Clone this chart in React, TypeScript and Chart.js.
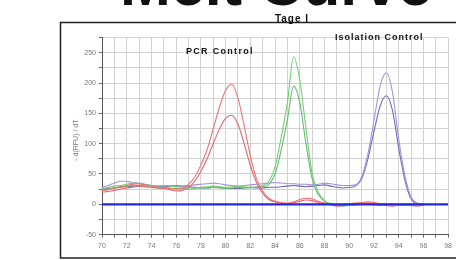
import { useEffect, useRef } from 'react';
import { Chart, registerables } from 'chart.js';

Chart.register(...registerables);

const TITLE = 'Melt Curve';
const STAGE = 'Tage I';
const PCR_LABEL = 'PCR Control';
const ISO_LABEL = 'Isolation Control';
const Y_TITLE = '- d(RFU) / dT';

const xTicksMin = 70;
const xTicksMax = 98;
const yTicksMin = -50;
const yTicksMax = 275;

const temps = [
  70, 70.5, 71, 71.5, 72, 72.5, 73, 73.5, 74, 74.5, 75, 75.5, 76, 76.5,
  77, 77.5, 78, 78.5, 79, 79.5, 80, 80.5, 81, 81.5, 82, 82.5, 83, 83.5,
  84, 84.5, 85, 85.5, 86, 86.5, 87, 87.5, 88, 88.5, 89, 89.5, 90, 90.5,
  91, 91.5, 92, 92.5, 93, 93.5, 94, 94.5, 95, 95.5, 96,
];

const pcrHigh = [
  22, 24, 27, 29, 31, 33, 34, 32, 30, 28, 27, 26, 25, 26,
  33, 45, 65, 90, 125, 160, 188, 198, 175, 130, 80, 42, 22, 10,
  5, 3, 2, 4, 8, 10, 9, 5, 2, 0, -1, 0, 1, 2, 3, 4, 3, 1, 0, -1, 0, 1, 0, 0, 0,
];
const pcrLow = [
  20, 21, 23, 25, 27, 28, 30, 29, 28, 27, 26, 24, 22, 23,
  27, 38, 54, 75, 100, 124, 142, 147, 132, 100, 64, 36, 18, 8,
  4, 2, 1, 2, 5, 7, 6, 3, 1, -1, -3, -2, 0, 1, 2, 2, 1, 0, -2, -3, -1, 0, -2, -3, -1,
];
const targetHigh = [
  26, 28, 30, 31, 33, 35, 34, 32, 31, 30, 31, 30, 29, 28,
  28, 27, 28, 29, 30, 29, 28, 29, 30, 29, 28, 29,
  31, 38, 62, 111, 168, 243, 205, 125, 51, 20, 6, 1, -1, -2, -1,
  0, 1, 1, 0, -1, 0, 1, 0, -1, -2, 0, 0,
];
const targetLow = [
  24, 25, 27, 29, 30, 31, 30, 29, 28, 27, 28, 27, 26, 26,
  25, 26, 27, 27, 28, 27, 26, 27, 28, 27, 27, 28,
  29, 33, 50, 90, 140, 195, 168, 100, 42, 16, 5, 1, -2, -3, -2,
  -1, 0, 0, -1, -2, -1, 0, -1, -2, -1, 0, 0,
];
const isoHigh = [
  28, 31, 35, 38, 38, 36, 35, 33, 31, 30, 30, 31, 30, 30,
  31, 32, 33, 34, 35, 34, 32, 31, 30, 31, 32, 33, 34, 35,
  36, 35, 34, 34, 33, 33, 32, 33, 35, 34, 32, 31, 31,
  32, 45, 82, 138, 195, 217, 185, 108, 48, 12, 2, 0,
];
const isoLow = [
  25, 26, 27, 28, 29, 30, 31, 32, 31, 30, 29, 30, 31, 30,
  29, 28, 27, 27, 28, 28, 27, 26, 26, 27, 28, 27, 27, 28,
  28, 29, 30, 31, 30, 29, 30, 31, 32, 30, 28, 27, 28,
  30, 42, 74, 120, 162, 179, 155, 93, 40, 9, 0, -2,
];
const thresholdTemps = [70, 98];
const thresholdValues = [0, 0];

const FONT = '"Liberation Sans", Arial, sans-serif';

const pts = (xs: number[], ys: number[]) => xs.map((x, i) => ({ x, y: ys[i] }));

const decor = {
  id: 'decor',
  beforeDraw(chart: any) {
    const ctx = chart.ctx;
    ctx.save();
    ctx.fillStyle = '#ffffff';
    ctx.fillRect(0, 0, chart.width, chart.height);
    ctx.restore();
  },
  afterDraw(chart: any) {
    const ctx = chart.ctx as CanvasRenderingContext2D;
    const area = chart.chartArea;
    ctx.save();
    ctx.strokeStyle = '#222';
    ctx.lineWidth = 1.5;
    ctx.beginPath();
    ctx.moveTo(470, 22.5);
    ctx.lineTo(60.5, 22.5);
    ctx.lineTo(60.5, 258);
    ctx.lineTo(470, 258);
    ctx.stroke();
    ctx.fillStyle = '#111';
    ctx.font = `bold 61px ${FONT}`;
    ctx.textAlign = 'center';
    ctx.textBaseline = 'alphabetic';
    ctx.fillText(TITLE, 276, 5);
    (ctx as any).letterSpacing = '1px';
    ctx.font = `bold 10px ${FONT}`;
    ctx.fillText(STAGE, 292, 22);
    ctx.font = `bold 9px ${FONT}`;
    ctx.textAlign = 'left';
    (ctx as any).letterSpacing = '1.3px';
    ctx.fillText(PCR_LABEL, 186, 54);
    (ctx as any).letterSpacing = '1px';
    ctx.fillText(ISO_LABEL, 335, 40);
    (ctx as any).letterSpacing = '0px';
    ctx.fillStyle = '#777';
    ctx.font = `7px ${FONT}`;
    ctx.translate(76, (area.top + area.bottom) / 2 + 4);
    ctx.rotate(-Math.PI / 2);
    ctx.textAlign = 'center';
    ctx.textBaseline = 'middle';
    ctx.fillText(Y_TITLE, 0, 0);
    ctx.restore();
  },
};

export default function App() {
  const ref = useRef<HTMLCanvasElement | null>(null);
  useEffect(() => {
    if (!ref.current) return;
    const line = (data: any[], color: string, width = 1.1) => ({
      data,
      borderColor: color,
      borderWidth: width,
      pointRadius: 0,
      fill: false,
      cubicInterpolationMode: 'monotone' as const,
    });
    const chart = new Chart(ref.current, {
      type: 'line',
      data: {
        datasets: [
          line(pts(thresholdTemps, thresholdValues), '#2626d9', 2.2),
          line(pts(temps, pcrHigh), '#f07070'),
          line(pts(temps, pcrLow), '#e06670'),
          line(pts(temps, targetHigh), '#74cc74'),
          line(pts(temps, targetLow), '#66bb6e'),
          line(pts(temps, isoHigh), '#a394da'),
          line(pts(temps, isoLow), '#7466b8'),
        ],
      },
      options: {
        animation: false,
        responsive: false,
        maintainAspectRatio: false,
        layout: { padding: { top: 37.6, right: 4, left: 0, bottom: 0 } },
        plugins: { legend: { display: false }, tooltip: { enabled: false }, title: { display: false } },
        scales: {
          x: {
            type: 'linear',
            min: xTicksMin,
            max: xTicksMax,
            ticks: {
              stepSize: 1,
              autoSkip: false,
              maxRotation: 0,
              padding: 4,
              color: '#777',
              font: { size: 7, family: FONT },
              callback: (v: any) => (Number(v) % 2 === 0 ? String(v) : ''),
            },
            grid: { color: '#d2d2d2', lineWidth: 1, tickLength: 3, tickColor: '#666' },
            border: { color: '#555', width: 1 },
            afterFit: (s: any) => { s.height = 25.4; },
          },
          y: {
            min: yTicksMin,
            max: yTicksMax,
            ticks: {
              stepSize: 25,
              padding: 3,
              color: '#777',
              font: { size: 7, family: FONT },
              callback: (v: any) => (Number(v) % 50 === 0 ? String(v) : ''),
            },
            grid: { color: '#d2d2d2', lineWidth: 1, tickLength: 3, tickColor: '#666' },
            border: { color: '#555', width: 1 },
            afterFit: (s: any) => { s.width = 102; },
          },
        },
      },
      plugins: [decor],
    });
    return () => chart.destroy();
  }, []);
  return (
    <div style={{ position: 'fixed', left: 0, top: 0, width: 456, height: 260 }}>
      <canvas ref={ref} width={456} height={260} style={{ width: 456, height: 260, display: 'block' }} />
    </div>
  );
}
